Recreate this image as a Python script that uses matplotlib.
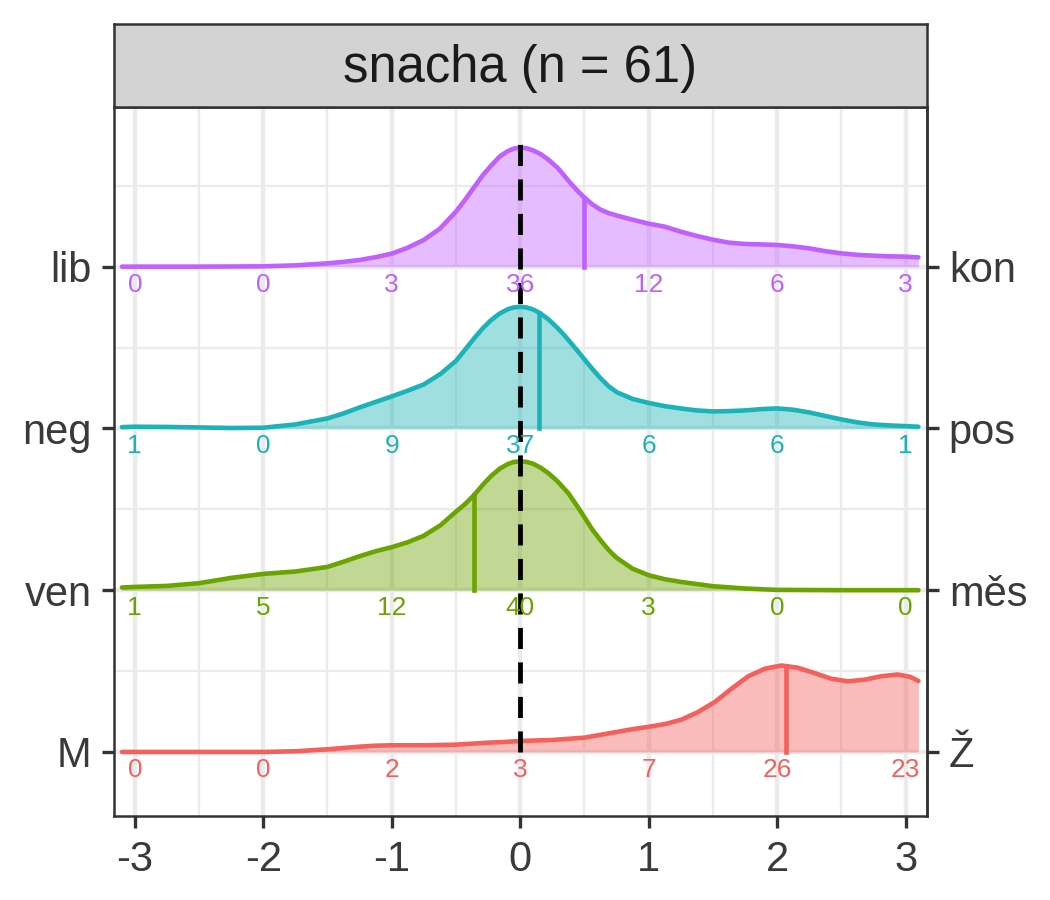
import numpy as np
import matplotlib
matplotlib.use('Agg')
import matplotlib.pyplot as plt

plt.rcParams['font.family'] = ['Liberation Sans', 'DejaVu Sans']

FN_OUT = 'out.png'

# rows from bottom (1) to top (4)
left_labels = ['M', 'ven', 'neg', 'lib']
right_labels = ['Ž', 'měs', 'pos', 'kon']
colors = ['#F4605B', '#6BA300', '#1BB3B7', '#BF60FF']
title = 'snacha (n = 61)'

count_x = [-3, -2, -1, 0, 1, 2, 3]
counts_M = [0, 0, 2, 3, 7, 26, 23]
counts_ven = [1, 5, 12, 40, 3, 0, 0]
counts_neg = [1, 0, 9, 37, 6, 6, 1]
counts_lib = [0, 0, 3, 36, 12, 6, 3]

# ridge heights (arbitrary density units)
M_x = [-3.1, -3, -2, -1.75, -1.5, -1.25, -1.125, -1, -0.75, -0.5, -0.375,
       -0.25, -0.125, 0, 0.25, 0.5, 0.75, 0.875, 1, 1.13, 1.255, 1.385,
       1.515, 1.645, 1.775, 1.905, 2.034, 2.16, 2.29, 2.42, 2.55, 2.68,
       2.81, 2.94, 3.04, 3.1]
M_h = [0, 0, 0, 0.7, 2.7, 5.3, 6.3, 6.7, 6.7, 7.3, 8.3,
       9.3, 10, 11, 12, 14.3, 20, 22.8, 25.2, 28, 32.3, 40,
       50, 63.3, 75.7, 83.3, 86.5, 84.3, 79, 73.3, 70.7, 72.3,
       75.7, 77.5, 75, 71]

ven_x = [-3.1, -3, -2.75, -2.5, -2.25, -2, -1.75, -1.5, -1.375, -1.25,
         -1.125, -1, -0.875, -0.75, -0.62, -0.5, -0.43, -0.36, -0.29,
         -0.226, -0.16, -0.096, -0.05, 0, 0.05, 0.1, 0.16, 0.22, 0.29,
         0.34, 0.375, 0.455, 0.5, 0.56, 0.625, 0.69, 0.75, 0.875, 1, 1.125,
         1.25, 1.5, 1.75, 2, 2.5, 3, 3.1]
ven_h = [2.7, 3.3, 4.3, 7, 12.3, 16.3, 18.7, 23.3, 28.5, 34,
         39, 43, 48, 54.5, 65, 78.5, 86, 95, 105.5,
         114.3, 121.4, 126.2, 128.2, 129, 128.3, 126.5, 122.5, 117, 109,
         102, 97, 82, 73, 61, 50, 40, 32.5, 21.5, 15, 11,
         8.3, 4, 1.7, 0.3, 0, 0, 0]

neg_x = [-3.1, -3, -2.75, -2.5, -2.25, -2, -1.75, -1.5, -1.375, -1.25,
         -1.125, -1, -0.875, -0.75, -0.62, -0.5, -0.43, -0.356, -0.29,
         -0.226, -0.16, -0.096, -0.05, 0, 0.05, 0.1, 0.153, 0.22, 0.29,
         0.34, 0.395, 0.45, 0.5, 0.56, 0.625, 0.69, 0.755, 0.875, 1, 1.125,
         1.25, 1.375, 1.5, 1.625, 1.75, 1.875, 2, 2.125, 2.25, 2.375, 2.5,
         2.625, 2.75, 2.875, 3, 3.1]
neg_h = [1.3, 1.7, 1.5, 1, 0.4, 0.7, 4, 10, 15, 21,
         26.5, 32, 37.8, 44, 54.5, 67.5, 78.5, 90.5, 100.3,
         108.4, 114.9, 119.2, 121, 121.7, 121, 119, 115.4, 109.1, 100.6,
         93.7, 85.5, 77, 69.1, 59.8, 50.3, 42, 36, 29.5, 25.5, 22.3,
         20, 18, 17, 17.3, 18, 19.3, 20, 18.7, 16, 12.5, 9,
         6, 4, 3, 2.3, 1.7]

lib_x = [-3.1, -3, -2.5, -2, -1.75, -1.5, -1.375, -1.25, -1.125, -1,
         -0.875, -0.75, -0.625, -0.5, -0.43, -0.356, -0.29, -0.226, -0.16,
         -0.096, -0.05, 0, 0.05, 0.1, 0.16, 0.22, 0.29, 0.34, 0.395, 0.45,
         0.5, 0.56, 0.625, 0.69, 0.755, 0.875, 1, 1.125, 1.25, 1.375, 1.5,
         1.625, 1.75, 1.875, 2, 2.125, 2.25, 2.375, 2.5, 2.625, 2.75, 2.875,
         3, 3.1]
lib_h = [0, 0, 0, 0.3, 1.3, 3.3, 4.8, 6.7, 9.5, 13,
         19, 26.7, 38, 55, 66.7, 80, 91.6, 101.1, 110.1,
         115.6, 118.1, 119, 118.4, 116.3, 112.5, 107, 99, 91.5, 83, 75.5,
         69, 62.5, 57, 53.5, 51, 47, 43, 40, 35, 30.7, 27,
         24, 22.7, 22.2, 21.7, 20.3, 18.3, 15.5, 13.3, 11.8, 11, 10.3,
         10, 9.3]

H_SCALE = 1 / 161.8
GRID = '#EBEBEB'
DARK = '#333333'


def weighted_mean(xs, ws):
    return sum(x * w for x, w in zip(xs, ws)) / sum(ws)


def plot_ridges(fn_out):
    fig = plt.figure(figsize=(3.5, 3.0), dpi=300)
    ax = fig.add_axes([0.1082, 0.0933, 0.7744, 0.7873])
    ax.set_xlim(-3.165, 3.165)
    ax.set_ylim(0.604, 4.984)

    # grid
    for gx in range(-3, 4):
        ax.axvline(gx, color=GRID, lw=1.07, zorder=0)
    for gx in np.arange(-2.5, 3, 1.0):
        ax.axvline(gx, color=GRID, lw=0.53, zorder=0)
    for gy in [1, 2, 3, 4]:
        ax.axhline(gy, color=GRID, lw=1.07, zorder=0)
    for gy in [1.5, 2.5, 3.5, 4.5]:
        ax.axhline(gy, color=GRID, lw=0.53, zorder=0)

    rows = [(M_x, M_h, counts_M), (ven_x, ven_h, counts_ven),
            (neg_x, neg_h, counts_neg), (lib_x, lib_h, counts_lib)]
    # top row first so lower ridges sit in front
    for i in reversed(range(len(rows))):
        xs, hs, cnt = rows[i]
        base = i + 1
        col = colors[i]
        top = base + np.array(hs) * H_SCALE
        z = 2 + 2 * (4 - i)
        ax.fill_between(xs, base, top, color=col, alpha=0.42, lw=0, zorder=z)
        ax.plot(xs, top, color=col, lw=1.1, zorder=z + 1,
                solid_capstyle='round', solid_joinstyle='round')
        m = weighted_mean(count_x, cnt)
        ax.plot([m, m], [base, base + np.interp(m, xs, hs) * H_SCALE],
                color=col, lw=1.1, zorder=z + 1)
        for cx, c in zip(count_x, cnt):
            ax.text(cx, base - 0.111, str(c), color=col, fontsize=6.3,
                    ha='center', va='center', zorder=30)

    ax.plot([0, 0], [1, 4.76], color='black', lw=1.15, dashes=(4.4, 2.8), zorder=20)

    ax.set_xticks(count_x, labels=[str(v) for v in count_x])
    ax.set_yticks([1, 2, 3, 4], labels=left_labels)
    sec = ax.secondary_yaxis('right')
    sec.set_yticks([1, 2, 3, 4], labels=right_labels)

    for a in (ax, sec):
        a.tick_params(length=2.9, width=0.8, color=DARK, labelcolor='#3A3A3A',
                      labelsize=10, pad=2.4)
        for s in a.spines.values():
            s.set_color(DARK)
            s.set_linewidth(0.6)
    ax.tick_params(axis='x', pad=2.9)

    # facet strip
    st = fig.add_axes([0.1082, 0.8806, 0.7744, 0.0931])
    st.set_facecolor('#D3D3D3')
    st.set_xticks([])
    st.set_yticks([])
    for s in st.spines.values():
        s.set_color(DARK)
        s.set_linewidth(0.6)
    st.text(0.5, 0.47, title, ha='center', va='center', fontsize=12.2,
            color='#1A1A1A', transform=st.transAxes)

    fig.savefig(fn_out, dpi=300)


if __name__ == '__main__':
    plot_ridges(FN_OUT)
